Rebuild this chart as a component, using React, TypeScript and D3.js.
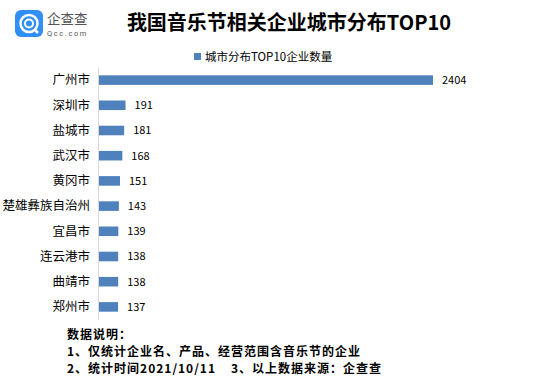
import React from "react";
import * as d3 from "d3";

const cities: string[] = [
  "广州市",
  "深圳市",
  "盐城市",
  "武汉市",
  "黄冈市",
  "楚雄彝族自治州",
  "宜昌市",
  "连云港市",
  "曲靖市",
  "郑州市",
];
const counts: number[] = [2404, 191, 181, 168, 151, 143, 139, 138, 138, 137];
const seriesName = "城市分布TOP10企业数量";
const title = "我国音乐节相关企业城市分布TOP10";
const notes: string[] = [
  "数据说明：",
  "1、仅统计企业名、产品、经营范围含音乐节的企业",
  "2、统计时间2021/10/11    3、以上数据来源：企查查",
];

const W = 547;
const H = 384;
const FONT = "'Noto Sans CJK SC', 'Noto Sans', sans-serif";
const BAR = "#4f81bd";

const App: React.FC = () => {
  const x = d3.scaleLinear().domain([0, 2404]).range([99, 433]);
  const y = d3
    .scaleBand<string>()
    .domain(cities)
    .range([67.5, 319.5])
    .paddingInner(0.62)
    .paddingOuter(0.31);

  return (
    <div style={{ position: "absolute", left: 0, top: 0 }}>
      <svg width={W} height={H} style={{ display: "block" }} fontFamily={FONT}>
        <rect width={W} height={H} fill="#fff" />

        {/* logo */}
        <rect x={15} y={10} width={28} height={27} rx={6} fill="#2f8ff5" />
        <circle cx={29} cy={23.5} r={8.5} fill="none" stroke="#fff" strokeWidth={2.5} />
        <circle cx={29} cy={23.5} r={4} fill="none" stroke="#fff" strokeWidth={2} />
        <line x1={34} y1={29} x2={38} y2={33} stroke="#fff" strokeWidth={2.5} />
        <text x={47} y={23.5} fontSize={13.5} fill="#555">企查查</text>
        <text x={47} y={36} fontSize={7.5} fill="#555" letterSpacing={1.6} fontFamily="Roboto, sans-serif">
          Qcc.com
        </text>

        {/* title */}
        <text x={289} y={30} textAnchor="middle" fontSize={20} fontWeight="bold" fill="#000">
          {title}
        </text>

        {/* legend */}
        <rect x={194} y={53} width={7} height={7} fill={BAR} />
        <text x={205} y={61} fontSize={11.5} fill="#000">{seriesName}</text>

        {/* axis line */}
        <line x1={98.5} x2={98.5} y1={67.5} y2={320} stroke="#d9d9d9" strokeWidth={1} />

        {cities.map((c, i) => {
          const yy = y(c)!;
          const cy = yy + y.bandwidth() / 2;
          return (
            <g key={c}>
              <rect x={x(0)} y={yy} width={x(counts[i]) - x(0)} height={y.bandwidth()} fill={BAR} />
              <text x={90} y={cy} dy="0.35em" textAnchor="end" fontSize={12.5} fill="#000">
                {c}
              </text>
              <text x={x(counts[i]) + 9} y={cy} dy="0.35em" fontSize={11} fill="#000">
                {counts[i]}
              </text>
            </g>
          );
        })}

        {notes.map((n, i) => (
          <text
            key={i}
            x={67}
            y={338.5 + i * 17}
            fontSize={12}
            letterSpacing={1}
            fontWeight="bold"
            fill="#000"
            style={{ whiteSpace: "pre" }}
          >
            {n}
          </text>
        ))}
      </svg>
    </div>
  );
};

export default App;
